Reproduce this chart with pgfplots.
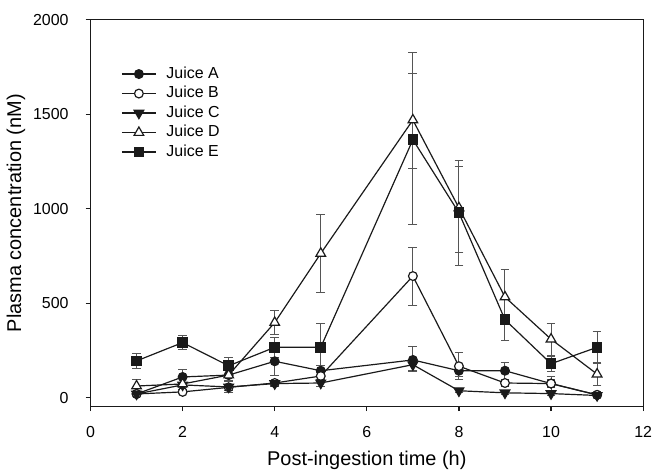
\documentclass[border=0pt]{standalone}
\usepackage{pgfplots}
\pgfplotsset{compat=1.18}
\usepackage{fontspec}
\setmainfont{Liberation Sans}
\definecolor{ink}{HTML}{1A1A1A}
\definecolor{barc}{HTML}{555555}

\begin{document}
\begin{tikzpicture}
\begin{axis}[
  scale only axis,
  width=277.5pt, height=194pt,
  xmin=0, xmax=12, ymin=-45, ymax=2000,
  xtick={0,2,...,12}, ytick={0,500,1000,1500,2000},
  tick align=outside, major tick length=2.5pt,
  xtick pos=bottom, ytick pos=left,
  /pgf/number format/assume math mode=true,
  /pgf/number format/1000 sep={},
  ticklabel style={font=\fontsize{8}{9}\selectfont},
  xticklabel style={yshift=-4pt, inner xsep=0.5pt},
  yticklabel style={xshift=-5pt},
  xlabel={Post-ingestion time (h)},
  ylabel={Plasma concentration (nM)},
  label style={font=\fontsize{10}{12}\selectfont},
  xlabel style={at={(axis description cs:0.5,-0.139)}, anchor=center, inner sep=1pt},
  ylabel style={at={(axis description cs:-0.135,0.5)}, anchor=center},
  axis line style={ink, line width=0.6pt},
  every tick/.style={ink, line width=0.6pt},
  legend style={draw=none, fill=none, at={(axis description cs:0.055,0.89)}, anchor=north west,
    font=\fontsize{8}{9}\selectfont, row sep=-1.5pt, inner sep=0pt},
  legend cell align=left,
  every axis plot/.append style={ink, line width=0.6pt, mark size=2.2pt},
  error bars/y dir=both,
  error bars/y explicit,
  error bars/error bar style={barc, line width=0.5pt},
  error bars/error mark options={rotate=90, mark size=2.2pt, barc, line width=0.5pt},
]
% Juice A
\addplot [mark=*, mark options={fill=ink}] coordinates {
  (1,20) +- (0,10) (2,110) +- (0,40) (3,120) +- (0,30) (4,193) +- (0,75) (5,143) +- (0,30)
  (7,200) += (0,72) -= (0,60) (8,143) +- (0,30) (9,143) +- (0,45) (10,75) +- (0,20) (11,15) +- (0,5)
};
\addlegendentry{\hspace{3pt}Juice A}
% Juice B
\addplot [mark=*, mark options={fill=white}] coordinates {
  (1,20) +- (0,10) (2,31) +- (0,10) (3,55) +- (0,15) (4,78) +- (0,15) (5,115) +- (0,20)
  (7,644) += (0,152) -= (0,157) (8,167) +- (0,70) (9,78) +- (0,20) (10,75) +- (0,40) (11,15) +- (0,5)
};
\addlegendentry{\hspace{3pt}Juice B}
% Juice C
\addplot [mark=triangle*, mark size=2.8pt, mark options={fill=ink, rotate=180}] coordinates {
  (1,20) +- (0,5) (2,68) +- (0,15) (3,57) +- (0,30) (4,75) +- (0,15) (5,78) +- (0,20)
  (7,175) +- (0,30) (8,37) +- (0,10) (9,26) +- (0,8) (10,22) +- (0,8) (11,12) +- (0,5)
};
\addlegendentry{\hspace{3pt}Juice C}
% Juice D
\addplot [mark=triangle*, mark size=2.8pt, mark options={fill=white}] coordinates {
  (1,62) +- (0,32) (2,73) +- (0,30) (3,120) +- (0,30) (4,398) +- (0,63) (5,764) +- (0,207)
  (7,1470) += (0,355) -= (0,255) (8,1005) += (0,220) -= (0,234) (9,533) +- (0,145) (10,310) +- (0,85) (11,125) +- (0,60)
};
\addlegendentry{\hspace{3pt}Juice D}
% Juice E
\addplot [mark=square*, mark size=2.4pt, mark options={fill=ink}] coordinates {
  (1,195) +- (0,38) (2,292) +- (0,39) (3,169) +- (0,45) (4,267) +- (0,52) (5,267) +- (0,128)
  (7,1366) += (0,350) -= (0,450) (8,979) += (0,277) -= (0,278) (9,413) +- (0,110) (10,180) +- (0,40) (11,267) +- (0,85)
};
\addlegendentry{\hspace{3pt}Juice E}
\end{axis}
\path ([yshift=10pt]current axis.north);
\end{tikzpicture}
\end{document}
